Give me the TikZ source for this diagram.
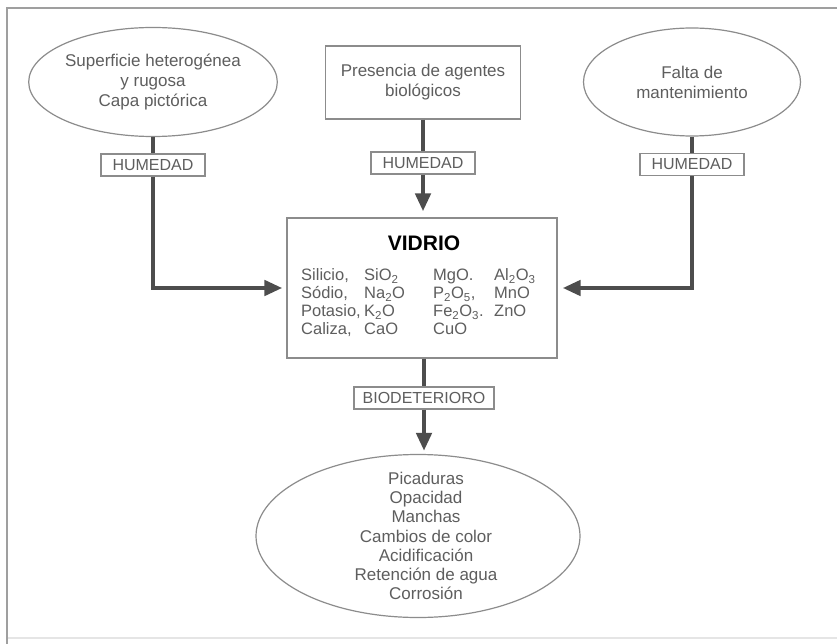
\documentclass[tikz,border=0pt]{standalone}
\usepackage{fontspec}
\setmainfont{Liberation Sans}
\usetikzlibrary{shapes.geometric,arrows.meta}
\definecolor{txt}{HTML}{5E5E5E}
\definecolor{edgec}{HTML}{8C8C8C}
\definecolor{connc}{HTML}{4D4D4D}
\begin{document}
\begin{tikzpicture}[x=1pt,y=-1pt,
 every node/.style={font=\fontsize{17}{20}\selectfont, text=txt, align=center, inner sep=0pt},
 oval/.style={ellipse, draw=edgec, line width=1.2pt},
 sbox/.style={rectangle, draw=edgec, line width=1.2pt},
 tag/.style={rectangle, draw=edgec, line width=1.1pt, fill=white, minimum width=104pt, minimum height=22pt, font=\fontsize{16}{18}\selectfont},
 link/.style={draw=connc, line width=4.5pt},
 arr/.style={link, -{Triangle[length=18pt,width=15pt]}},
]
\useasboundingbox (0,0) rectangle (837,644);
\fill[white] (0,0) rectangle (837,644);
% frame
\draw[draw=gray!75, line width=1.5pt] (7,644) -- (7,8) -- (837,8);
\draw[draw=gray!20, line width=2pt] (8,638) -- (837,638);
% top nodes
\node[oval, minimum width=222pt, minimum height=109pt] (L) at (153,82) {Superficie heterogénea\\y rugosa\\Capa pictórica};
\node[sbox, minimum width=195pt, minimum height=73pt] (M) at (423,82.5) {Presencia de agentes\\biológicos};
\node[oval, minimum width=217pt, minimum height=108pt] (R) at (692,82) {Falta de\\mantenimiento};
% tags
\node[tag] (HL) at (153,165) {HUMEDAD};
\node[tag] (HM) at (423,163) {HUMEDAD};
\node[tag] (HR) at (692,164.5) {HUMEDAD};
% glass box
\node[sbox, minimum width=270pt, minimum height=140pt] (VID) at (422,288) {};
\node[font=\fontsize{21}{24}\selectfont\bfseries, text=black] (vt) at (424,243) {VIDRIO};
\node[anchor=west, align=left, font=\fontsize{16.5}{18}\selectfont] (vl) at (301,304) {\begin{tabular}{@{}p{63pt}@{}p{69pt}@{}p{61pt}@{}l@{}}
Silicio, & SiO\textsubscript{2} & MgO. & Al\textsubscript{2}O\textsubscript{3}\\
Sódio, & Na\textsubscript{2}O & P\textsubscript{2}O\textsubscript{5}, & MnO\\
Potasio, & K\textsubscript{2}O & Fe\textsubscript{2}O\textsubscript{3}. & ZnO\\
Caliza, & CaO & CuO & \\
\end{tabular}};
\node[tag, minimum width=140pt] (HB) at (424,398) {BIODETERIORO};
% bottom ellipse
\node[oval, minimum width=324pt, minimum height=163pt] (bot) at (418,536) {};
\node[font=\fontsize{17}{19.3}\selectfont] (botl) at (426,536) {Picaduras\\Opacidad\\Manchas\\Cambios de color\\Acidificación\\Retención de agua\\Corrosión};
% connectors
\draw[link] (L.south) -- (HL.north);
\draw[arr, shorten >=4pt] (HL.south) |- (VID.west);
\draw[link] (M.south) -- (HM.north);
\draw[arr, shorten >=6pt] (HM.south) -- (HM.south |- VID.north);
\draw[link] (R.south) -- (HR.north);
\draw[arr, shorten >=5pt] (HR.south) |- (VID.east);
\draw[link] (VID.south -| HB.south) -- (HB.north);
\draw[arr, shorten >=3pt] (HB.south) -- (HB.south |- bot.north);
\end{tikzpicture}
\end{document}
